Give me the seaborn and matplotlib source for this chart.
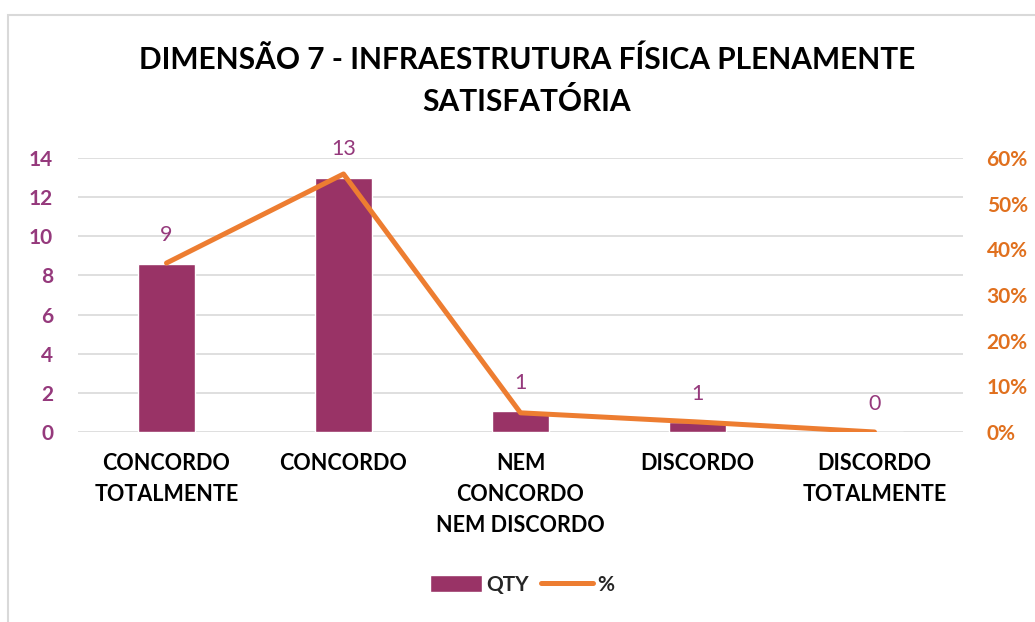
import seaborn as sns
import matplotlib.pyplot as plt
import pandas as pd
import numpy as np
from matplotlib.patches import Patch, Rectangle
from matplotlib.lines import Line2D
from matplotlib.ticker import PercentFormatter

# dados
categorias = ['CONCORDO\nTOTALMENTE', 'CONCORDO', 'NEM\nCONCORDO\nNEM DISCORDO',
              'DISCORDO', 'DISCORDO\nTOTALMENTE']
qty = [8.6, 13.0, 1.05, 0.5, 0.0]
qty_rotulos = ['9', '13', '1', '1', '0']
percentual = [0.37, 0.565, 0.042, 0.022, 0.0]
titulo = 'DIMENSÃO 7 - INFRAESTRUTURA FÍSICA PLENAMENTE\nSATISFATÓRIA'

ROXO = '#993366'
ROXO_TXT = '#95397C'
LARANJA = '#ED7D31'
LARANJA_TXT = '#E0701E'

sns.set_theme(style='white')
plt.rcParams['font.family'] = ['Lato', 'DejaVu Sans']

df = pd.DataFrame({'cat': categorias, 'qty': qty, 'pct': percentual})
df['pos'] = np.arange(len(df))

W, H = 1035, 622
fig = plt.figure(figsize=(W / 100, H / 100), dpi=100)
ax = fig.add_axes([78 / W, 1 - 432 / H, (963 - 78) / W, (432 - 158) / H])

sns.barplot(data=df, x='cat', y='qty', color=ROXO, saturation=1, width=0.32,
            errorbar=None, ax=ax)
ax.set_ylim(0, 14)
ax.set_yticks(range(0, 15, 2))
ax.set_xlabel('')
ax.set_ylabel('')
ax.yaxis.grid(True, color='#D9D9D9', lw=1.2)
ax.set_axisbelow(True)
for s in ax.spines.values():
    s.set_visible(False)
ax.tick_params(axis='y', length=0, pad=18, labelsize=15, labelcolor=ROXO_TXT)
ax.tick_params(axis='x', length=0, pad=15, labelsize=15.5, labelcolor='black')
for t in ax.get_yticklabels():
    t.set_fontweight('bold')
for t in ax.get_xticklabels():
    t.set_fontweight('bold')
    t.set_linespacing(1.6)

for i, (v, r) in enumerate(zip(qty, qty_rotulos)):
    ax.annotate(r, (i, v), xytext=(0, 20.5), textcoords='offset points',
                ha='center', va='center', fontsize=15.5, color=ROXO_TXT)

ax2 = ax.twinx()
sns.lineplot(data=df, x='pos', y='pct', color=LARANJA, lw=3.6, ax=ax2)
ax2.set_xlim(-0.5, len(categorias) - 0.5)
ax2.set_ylim(0, 0.6)
ax2.set_yticks(np.arange(0, 0.61, 0.1))
ax2.yaxis.set_major_formatter(PercentFormatter(1, decimals=0))
ax2.set_ylabel('')
for s in ax2.spines.values():
    s.set_visible(False)
ax2.tick_params(axis='y', length=0, pad=17, labelsize=15, labelcolor=LARANJA_TXT)
for t in ax2.get_yticklabels():
    t.set_fontweight('bold')

fig.text(527 / W, 1 - 81 / H, titulo, ha='center', va='center', fontsize=21.5,
         fontweight='bold', color='black', linespacing=1.55)

handles = [Patch(facecolor=ROXO), Line2D([], [], color=LARANJA, lw=3.6)]
fig.legend(handles, ['QTY', '%'], loc='center', bbox_to_anchor=(522 / W, 1 - 585 / H),
           ncol=2, frameon=False, prop={'size': 15, 'weight': 'bold'},
           handlelength=2.5, handleheight=0.9, handletextpad=0.2, columnspacing=0.6)

fig.patches.append(Rectangle((8 / W, -0.1), 1.2, 1.1 - 15 / H, transform=fig.transFigure,
                             fill=False, edgecolor='#D9D9D9', lw=1.5))

fig.savefig('out.png', dpi=100)
